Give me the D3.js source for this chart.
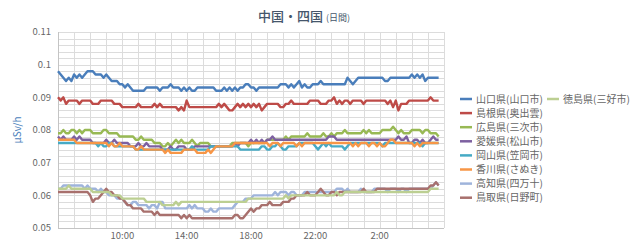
<!DOCTYPE html>
<html>
<head>
<meta charset="utf-8">
<script src="https://cdn.jsdelivr.net/npm/d3@7"></script>
<style>
  body { margin: 0; background: #fff; }
  svg { font-family: "Noto Sans CJK JP", "Noto Sans", sans-serif; }
</style>
</head>
<body>
<svg id="chart" width="640" height="240"></svg>
<script>
// values in 0.001 μSv/h, every 10 minutes from 6:00
const yamaguchi = [
  98,97,96,95,96,95, 97,96,97,96,97,98, 98,98,97,97,97,96, 97,96,95,95,95,94,
  94,93,94,93,92,92, 92,92,92,93,93,93, 93,93,92,93,93,93, 94,93,93,93,92,93,
  92,93,92,92,93,93, 93,93,93,93,93,92, 92,92,93,92,93,92, 93,92,93,93,94,94,
  93,93,92,93,93,93, 93,93,93,93,93,94, 94,94,93,94,93,94, 95,93,94,93,93,94,
  94,94,95,94,94,94, 94,94,94,94,94,94, 96,95,94,95,96,96, 96,96,96,96,96,96,
  96,96,95,95,96,96, 96,96,96,96,96,96, 97,96,97,96,97,95, 96,96,96,96,96];
const shimane = [
  90,89,90,88,89,89, 89,89,88,89,89,89, 89,88,88,88,89,89, 89,89,89,88,88,88,
  87,87,87,87,87,87, 88,87,87,87,87,87, 88,87,88,87,87,87, 87,87,87,86,87,86,
  89,87,87,87,87,87, 87,87,87,87,87,87, 88,87,88,87,86,86, 87,88,87,88,87,88,
  87,88,87,88,86,87, 88,88,88,88,88,87, 87,88,88,89,88,88, 88,88,88,88,89,89,
  89,89,88,88,88,89, 89,90,88,89,88,89, 89,88,89,89,89,89, 88,89,89,89,89,89,
  89,89,89,88,89,87, 89,86,88,88,88,89, 89,89,89,89,89,89, 89,90,89,89,89];
const hiroshima = [
  79,79,80,79,79,80, 80,79,80,79,80,80, 80,79,79,79,79,80, 80,79,79,79,79,78,
  78,78,78,78,78,77, 77,78,77,77,77,77, 76,76,76,75,75,76, 75,76,77,76,77,76,
  76,76,77,76,75,76, 76,76,76,75,75,75, 75,75,75,75,75,76, 76,76,76,76,76,75,
  76,76,76,76,76,76, 77,77,77,77,77,77, 77,78,77,78,78,78, 78,78,78,79,78,78,
  78,78,78,79,78,78, 79,78,79,79,79,80, 79,79,79,79,79,79, 80,79,80,79,79,79,
  79,80,80,80,80,81, 80,79,80,79,79,79, 80,80,80,80,79,80, 80,79,79,79,78];
const ehime = [
  78,77,78,77,77,77, 78,77,78,77,77,77, 77,76,76,76,76,76, 77,76,76,77,76,76,
  76,76,76,75,75,75, 76,75,75,76,75,75, 75,75,75,74,74,74, 75,74,74,75,75,75,
  74,74,74,75,75,75, 75,75,75,75,75,75, 75,75,75,75,75,75, 76,75,76,76,76,76,
  77,76,77,76,77,76, 77,77,78,77,77,77, 77,77,77,77,77,77, 77,77,77,77,77,77,
  77,77,77,77,77,78, 78,78,77,77,77,77, 77,77,77,77,77,77, 77,77,77,77,77,77,
  77,77,77,77,77,77, 77,78,77,77,78,76, 76,77,77,76,77,76, 76,77,78,77,77];
const okayama = [
  76,76,76,76,76,76, 76,76,76,76,76,76, 76,76,76,75,76,75, 75,76,76,75,75,75,
  75,75,75,75,75,74, 74,74,74,74,74,74, 74,74,74,74,74,74, 74,74,74,74,74,74,
  74,74,75,74,74,74, 74,74,74,75,75,75, 75,75,75,75,75,75, 75,75,74,74,74,74,
  74,74,74,74,75,75, 74,74,75,75,76,75, 74,74,75,75,75,75, 76,76,76,76,76,76,
  75,74,75,76,75,76, 75,75,75,75,75,74, 75,76,76,76,76,76, 76,76,76,76,76,76,
  76,75,76,76,76,76, 76,76,76,76,76,76, 76,76,76,76,75,76, 76,76,76,76,76];
const kagawa = [
  77,77,77,77,77,77, 77,76,76,76,76,76, 76,76,76,76,76,76, 76,75,76,75,75,76,
  75,75,75,75,75,74, 74,75,74,74,74,74, 74,74,74,74,73,74, 73,73,73,73,73,74,
  74,74,74,74,73,73, 73,73,74,73,74,75, 75,75,75,75,75,75, 76,76,76,76,76,76,
  76,76,76,76,76,76, 76,75,76,76,76,75, 76,76,76,76,76,75, 76,75,76,76,76,76,
  76,76,76,76,76,76, 76,76,76,76,76,76, 76,76,75,76,75,76, 76,76,75,76,76,75,
  76,75,75,76,77,77, 76,76,76,76,76,76, 76,75,76,75,76,76, 76,76,76,76,76];
const kochi = [
  62,62,63,63,63,63, 63,63,63,63,62,63, 62,62,62,61,62,61, 61,60,60,60,59,59,
  59,58,57,57,58,58, 57,57,57,57,56,57, 57,56,58,58,56,56, 56,56,56,56,56,56,
  56,57,56,57,56,56, 56,55,55,56,55,55, 56,56,56,56,56,56, 57,58,58,58,59,59,
  59,60,60,60,60,60, 60,60,60,61,60,61, 61,61,60,61,61,60, 60,60,61,61,61,61,
  61,61,61,61,61,61, 61,61,62,62,62,61, 62,61,61,61,61,62, 61,61,61,61,62,62,
  62,62,62,61,62,62, 62,61,62,62,61,62, 62,62,62,62,62,62, 62,62,63,64,63];
const tottori = [
  61,61,61,61,61,61, 61,61,61,61,61,61, 60,58,59,59,60,61, 62,61,61,60,60,59,
  59,58,57,57,56,56, 56,56,55,55,55,55, 54,55,54,54,54,54, 54,54,54,54,53,54,
  53,54,53,53,53,53, 53,53,53,53,53,53, 53,53,53,53,53,53, 54,54,53,53,54,55,
  56,55,56,56,57,57, 57,58,57,57,57,57, 58,58,58,59,59,60, 60,60,60,61,60,60,
  60,61,62,61,60,60, 61,61,60,61,61,61, 61,61,61,61,61,61, 62,61,61,61,61,62,
  62,62,62,62,62,62, 62,62,62,62,62,62, 62,62,62,62,62,62, 62,63,63,64,63];
const tokushima = [
  62,62,62,62,63,62, 62,62,62,62,62,62, 62,61,61,61,61,61, 61,61,60,60,60,60,
  59,59,59,59,59,59, 59,59,59,58,58,58, 58,58,58,57,57,57, 57,57,58,57,58,58,
  58,58,58,58,58,58, 58,58,58,58,58,58, 58,58,58,58,58,58, 58,58,58,58,58,59,
  59,59,59,59,59,59, 59,59,59,59,59,59, 59,60,59,60,60,60, 60,60,60,60,60,60,
  60,60,60,60,60,60, 60,60,61,60,60,61, 61,61,61,61,61,61, 61,61,61,61,61,61,
  61,61,61,61,61,61, 61,61,61,61,61,61, 61,61,61,61,61,61, 61,62,62,62,62];

const seriesNames = ["山口県(山口市)", "島根県(奥出雲)", "広島県(三次市)", "愛媛県(松山市)",
  "岡山県(笠岡市)", "香川県(さぬき)", "高知県(四万十)", "鳥取県(日野町)", "徳島県(三好市)"];
const seriesValues = [yamaguchi, shimane, hiroshima, ehime, okayama, kagawa, kochi, tottori, tokushima];
const seriesColors = ["#4a7ebb", "#be4b48", "#98b954", "#7d60a0", "#46aac5", "#f79646",
  "#9fb4db", "#a8706d", "#bccf92"];

const xTickHours = [4, 8, 12, 16, 20];
const xTickLabels = ["10:00", "14:00", "18:00", "22:00", "2:00"];
const yTicks = [0.05, 0.06, 0.07, 0.08, 0.09, 0.1, 0.11];
const yTickLabels = ["0.05", "0.06", "0.07", "0.08", "0.09", "0.1", "0.11"];

const svg = d3.select("#chart");
const plotLeft = 58, plotRight = 444, plotTop = 32, plotBottom = 228;

const x = d3.scaleLinear().domain([0, 24]).range([plotLeft, plotRight]);
const y = d3.scaleLinear().domain([0.05, 0.11]).range([plotBottom, plotTop]);

// grid
const grid = svg.append("g").attr("stroke", "#dcdcdc").attr("stroke-width", 1).attr("shape-rendering", "crispEdges");
grid.selectAll(".h").data(d3.range(0, 31))
  .join("line")
  .attr("x1", plotLeft).attr("x2", plotRight)
  .attr("y1", d => Math.round(y(0.05 + d * 0.002)) + 0.5)
  .attr("y2", d => Math.round(y(0.05 + d * 0.002)) + 0.5);
grid.selectAll(".v").data(d3.range(0, 25))
  .join("line")
  .attr("y1", plotTop).attr("y2", plotBottom)
  .attr("x1", d => Math.round(x(d)) + 0.5)
  .attr("x2", d => Math.round(x(d)) + 0.5);

// axis lines
svg.append("line")
  .attr("x1", plotLeft + 0.5).attr("x2", plotLeft + 0.5).attr("y1", plotTop).attr("y2", plotBottom)
  .attr("stroke", "#c4c4c4");
svg.append("line")
  .attr("x1", plotLeft).attr("x2", plotRight).attr("y1", plotBottom + 0.5).attr("y2", plotBottom + 0.5)
  .attr("stroke", "#c4c4c4");

// y tick labels
svg.append("g").selectAll("text").data(yTicks)
  .join("text")
  .attr("x", plotLeft - 7)
  .attr("y", d => y(d))
  .attr("dy", "0.35em")
  .attr("text-anchor", "end")
  .attr("font-size", 9.5)
  .attr("fill", "#666")
  .text((d, i) => yTickLabels[i]);

// x tick labels
svg.append("g").selectAll("text").data(xTickHours)
  .join("text")
  .attr("x", d => x(d))
  .attr("y", 238.5)
  .attr("text-anchor", "middle")
  .attr("font-size", 9.5)
  .attr("fill", "#666")
  .text((d, i) => xTickLabels[i]);

// y axis title
svg.append("text")
  .attr("transform", "translate(21,130) rotate(-90)")
  .attr("text-anchor", "middle")
  .attr("font-size", 10)
  .attr("fill", "#4a7ebb")
  .text("μSv/h");

// title
const title = svg.append("text")
  .attr("x", 258).attr("y", 21)
  .attr("fill", "#45566b");
title.append("tspan").attr("font-size", 13).attr("font-weight", 500).text("中国・四国");
title.append("tspan").attr("font-size", 9).attr("dx", 3).text("(日間)");

// lines
const line = d3.line()
  .x((d, i) => x(i / 6))
  .y(d => y(d / 1000));

svg.append("g").selectAll("path").data(seriesValues)
  .join("path")
  .attr("fill", "none")
  .attr("stroke", (d, i) => seriesColors[i])
  .attr("stroke-width", 2.4)
  .attr("stroke-linejoin", "round")
  .attr("d", line);

// legend
const legendPos = seriesNames.map((n, i) => i < 8 ? [460, 99 + i * 14.1] : [547, 99]);
const legend = svg.append("g").selectAll("g").data(seriesNames)
  .join("g")
  .attr("transform", (d, i) => `translate(${legendPos[i][0]},${legendPos[i][1]})`);
legend.append("line")
  .attr("x1", 0).attr("x2", 12)
  .attr("stroke", (d, i) => seriesColors[i])
  .attr("stroke-width", 2.5);
legend.append("text")
  .attr("x", 16)
  .attr("dy", "0.35em")
  .attr("font-size", 10)
  .attr("fill", "#666")
  .text(d => d);
</script>
</body>
</html>
